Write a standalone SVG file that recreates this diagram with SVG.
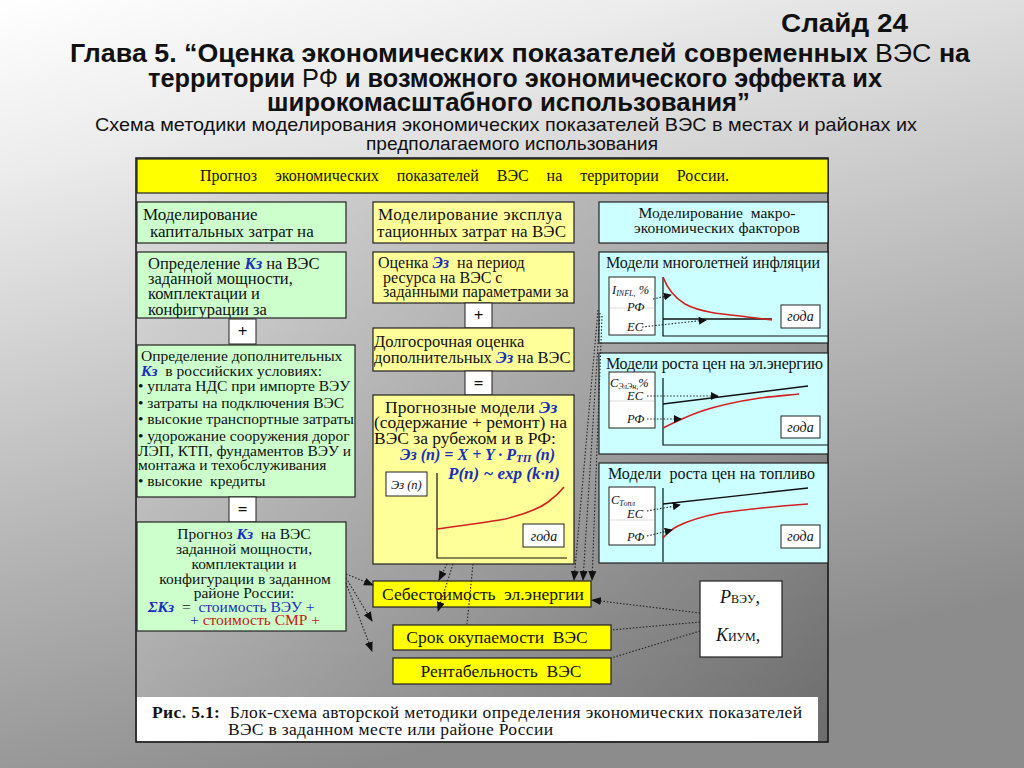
<svg xmlns="http://www.w3.org/2000/svg" width="1024" height="768" viewBox="0 0 1024 768">
<defs>
<linearGradient id="bg" x1="0" y1="0" x2="0.35" y2="1">
<stop offset="0" stop-color="#ffffff"/>
<stop offset="0.2" stop-color="#ececec"/>
<stop offset="0.65" stop-color="#b4b4b4"/>
<stop offset="1" stop-color="#8c8c8c"/>
</linearGradient>
<linearGradient id="panel" x1="0" y1="0" x2="1" y2="1">
<stop offset="0" stop-color="#e0e0e0"/>
<stop offset="0.5" stop-color="#a6a6a6"/>
<stop offset="1" stop-color="#6c6c6c"/>
</linearGradient>
<marker id="arr" viewBox="0 0 10 10" refX="9" refY="5" markerWidth="8" markerHeight="8" orient="auto" markerUnits="userSpaceOnUse">
<path d="M0,0 L10,5 L0,10 z" fill="#111"/>
</marker>
<marker id="arrs" viewBox="0 0 10 10" refX="9" refY="5" markerWidth="10" markerHeight="10" orient="auto" markerUnits="userSpaceOnUse">
<path d="M0,1 L10,5 L0,9 z" fill="#111"/>
</marker>
<clipPath id="clipG2"><rect x="137" y="345" width="218" height="152"/></clipPath>
<clipPath id="clipG1"><rect x="137" y="252" width="209" height="66"/></clipPath>
<clipPath id="clipY2"><rect x="373" y="328" width="201" height="43"/></clipPath>
<clipPath id="clipY1"><rect x="373" y="252" width="201" height="51"/></clipPath>
</defs>
<style>
.t{font-family:"Liberation Serif","Times New Roman",serif;fill:#111;}
.h{font-family:"Liberation Sans",Arial,sans-serif;fill:#111;}
.bx{stroke:#222;stroke-width:1.2;}
.grn{fill:#ccffcc;}
.yel{fill:#ffff99;}
.ybr{fill:#ffff00;}
.cyn{fill:#ccffff;}
.wht{fill:#ffffff;}
.op{fill:#ffffff;stroke:#222;stroke-width:1;}
.kz{fill:#1a2fb8;font-weight:bold;font-style:italic;}
.ax{stroke:#111;stroke-width:1.2;fill:none;}
.red{stroke:#d02020;stroke-width:1.6;fill:none;}
.blk{stroke:#111;stroke-width:1.4;fill:none;}
.dot{stroke:#222;stroke-width:1.1;stroke-dasharray:1.5 1.8;fill:none;}
.sep{stroke:#dddddd;stroke-width:1;}
.lbl{font-family:"Liberation Serif","Times New Roman",serif;font-style:italic;fill:#111;}
</style>
<rect x="0" y="0" width="1024" height="768" fill="url(#bg)"/>

<g id="title">
<text class="h" x="781" y="32" font-size="25" font-weight="bold" textLength="127" lengthAdjust="spacingAndGlyphs">Слайд  24</text>
<text class="h" x="70" y="62" font-size="25" font-weight="bold" textLength="900" lengthAdjust="spacingAndGlyphs">Глава 5. “Оценка экономических показателей современных <tspan font-weight="normal">ВЭС</tspan> на</text>
<text class="h" x="148" y="87" font-size="25" font-weight="bold" textLength="734" lengthAdjust="spacingAndGlyphs">территории <tspan font-weight="normal">РФ</tspan> и возможного экономического эффекта их</text>
<text class="h" x="267" y="111" font-size="25" font-weight="bold" textLength="483" lengthAdjust="spacingAndGlyphs">широкомасштабного использования”</text>
<text class="h" x="95" y="131" font-size="19" textLength="822" lengthAdjust="spacingAndGlyphs">Схема методики моделирования экономических показателей ВЭС в местах и районах их</text>
<text class="h" x="366" y="150" font-size="19" textLength="292" lengthAdjust="spacingAndGlyphs">предполагаемого использования</text>
</g>

<rect id="panel-bg" x="136" y="158" width="692" height="584" fill="url(#panel)" stroke="#111" stroke-width="1.5"/>

<g id="n-top">
<rect class="bx ybr" x="137" y="159" width="691" height="34"/>
<text class="t" x="200" y="181" font-size="16" word-spacing="14">Прогноз экономических показателей ВЭС на территории России.</text>
</g>

<g id="n-cap-model">
<rect class="bx grn" x="137" y="202" width="209" height="41"/>
<text class="t" x="143" y="220" font-size="17">Моделирование</text>
<text class="t" x="150" y="237" font-size="17">капитальных затрат на</text>
</g>
<g id="n-op-model">
<rect class="bx yel" x="373" y="202" width="201" height="41"/>
<text class="t" x="378" y="220" font-size="17" textLength="184">Моделирование эксплуа</text>
<text class="t" x="377" y="237" font-size="17" textLength="189">тационных затрат на ВЭС</text>
</g>
<g id="n-macro-model">
<rect class="bx cyn" x="599" y="202" width="229" height="41"/>
<text class="t" x="717" y="218" font-size="15.5" text-anchor="middle" xml:space="preserve">Моделирование  макро-</text>
<text class="t" x="717" y="233" font-size="15.5" text-anchor="middle">экономических факторов</text>
</g>

<g id="n-kz-def">
<rect class="bx grn" x="137" y="252" width="209" height="66"/>
<g clip-path="url(#clipG1)">
<text class="t" x="148" y="269" font-size="16.5">Определение <tspan class="kz">Кз</tspan> на ВЭС</text>
<text class="t" x="148" y="284" font-size="16.5">заданной мощности,</text>
<text class="t" x="148" y="299" font-size="16.5">комплектации и</text>
<text class="t" x="148" y="315" font-size="16.5">конфигурации за</text>
</g>
</g>
<g id="n-plus1"><rect class="op" x="229" y="319" width="27" height="25"/><text class="t" x="242.5" y="337" font-size="17" font-weight="bold" text-anchor="middle">+</text></g>

<g id="n-kz-add">
<rect class="bx grn" x="137" y="345" width="218" height="152"/>
<g clip-path="url(#clipG2)">
<text class="t" x="141" y="361" font-size="15.5">Определение дополнительных</text>
<text class="t" x="141" y="376" font-size="15.5" xml:space="preserve"><tspan class="kz">Кз</tspan>  в российских условиях:</text>
<text class="t" x="138" y="391" font-size="15.5">• уплата НДС при импорте ВЭУ</text>
<text class="t" x="138" y="408" font-size="15.5">• затраты на подключения ВЭС</text>
<text class="t" x="138" y="424" font-size="15.5">• высокие транспортные затраты</text>
<text class="t" x="138" y="441" font-size="15.5">• удорожание сооружения дорог</text>
<text class="t" x="138" y="456" font-size="15.5">ЛЭП, КТП, фундаментов ВЭУ и</text>
<text class="t" x="138" y="470" font-size="15.5">монтажа и техобслуживания</text>
<text class="t" x="138" y="486" font-size="15.5" xml:space="preserve">• высокие  кредиты</text>
</g>
</g>
<g id="n-eq1"><rect class="op" x="229" y="497" width="27" height="25"/><text class="t" x="242.5" y="515" font-size="17" font-weight="bold" text-anchor="middle">=</text></g>

<g id="n-kz-forecast">
<rect class="bx grn" x="137" y="522" width="209" height="109"/>
<text class="t" x="244" y="539" font-size="15.5" text-anchor="middle" xml:space="preserve">Прогноз <tspan class="kz">Кз</tspan>  на ВЭС</text>
<text class="t" x="244" y="554" font-size="15.5" text-anchor="middle">заданной мощности,</text>
<text class="t" x="244" y="569" font-size="15.5" text-anchor="middle">комплектации и</text>
<text class="t" x="245" y="584" font-size="15.5" text-anchor="middle">конфигурации в заданном</text>
<text class="t" x="244" y="598" font-size="15.5" text-anchor="middle">районе России:</text>
<text class="t" x="148" y="612" font-size="15.5" xml:space="preserve"><tspan class="kz">ΣКз</tspan>  =  <tspan fill="#1a2fb8">стоимость ВЭУ +</tspan></text>
<text class="t" x="190" y="625" font-size="15.5"><tspan fill="#1a2fb8">+</tspan><tspan fill="#c81818"> стоимость СМР +</tspan></text>
</g>

<g id="n-ez-est">
<rect class="bx yel" x="373" y="252" width="201" height="51"/>
<g clip-path="url(#clipY1)">
<text class="t" x="378" y="268" font-size="16" xml:space="preserve">Оценка <tspan class="kz">Эз</tspan>  на период</text>
<text class="t" x="383" y="283" font-size="16">ресурса на ВЭС с</text>
<text class="t" x="383" y="297" font-size="16">заданными параметрами за</text>
</g>
</g>
<g id="n-plus2"><rect class="op" x="465" y="303" width="27" height="25"/><text class="t" x="478.5" y="321" font-size="17" font-weight="bold" text-anchor="middle">+</text></g>
<g id="n-ez-long">
<rect class="bx yel" x="373" y="328" width="201" height="43"/>
<g clip-path="url(#clipY2)">
<text class="t" x="374" y="347" font-size="16.5">Долгосрочная оценка</text>
<text class="t" x="374" y="363" font-size="16.5">дополнительных <tspan class="kz">Эз</tspan> на ВЭС в</text>
</g>
</g>
<g id="n-eq2"><rect class="op" x="465" y="371" width="27" height="24"/><text class="t" x="478.5" y="389" font-size="17" font-weight="bold" text-anchor="middle">=</text></g>

<g id="n-ez-models">
<rect class="bx yel" x="373" y="395" width="201" height="169"/>
<text class="t" x="385" y="413" font-size="17.5">Прогнозные модели <tspan class="kz">Эз</tspan></text>
<text class="t" x="374" y="428" font-size="17.5">(содержание + ремонт) на</text>
<text class="t" x="374" y="444" font-size="17.5">ВЭС за рубежом и в РФ:</text>
<text class="t kz" x="400" y="460" font-size="16" textLength="155" lengthAdjust="spacingAndGlyphs">Эз (n) = X + Y · P<tspan font-size="11" dy="2">ТП</tspan><tspan dy="-2"> (n)</tspan></text>
<text class="t kz" x="448" y="479" font-size="16.5" textLength="112" lengthAdjust="spacingAndGlyphs">P(n) ~ exp (k·n)</text>
<rect class="op" x="386" y="472" width="41" height="24"/>
<text class="lbl" x="391" y="489" font-size="12.5">Эз (n)</text>
<path class="ax" d="M437,473 V558 H567"/>
<path class="red" d="M437,529 C470,524 490,522 505,519 C525,514 540,508 548,502 C555,497 560,492 564,487"/>
<rect class="op" x="523" y="524" width="41" height="23"/>
<text class="lbl" x="544" y="541" font-size="14" text-anchor="middle">года</text>
</g>

<g id="n-inflation">
<rect class="bx cyn" x="599" y="252" width="229" height="91"/>
<text class="t" x="606" y="268" font-size="16" textLength="214">Модели многолетней инфляции</text>
<rect class="op" x="609" y="277" width="46" height="58"/>
<line class="sep" x1="610" y1="308" x2="654" y2="308"/>
<text class="lbl" x="612" y="294" font-size="12.5">I<tspan font-size="8" dy="2">INFL,</tspan><tspan dy="-2"> %</tspan></text>
<text class="lbl" x="627" y="311" font-size="12.5">РФ</text>
<text class="lbl" x="627" y="331" font-size="12.5">ЕС</text>
<path class="ax" d="M663,277 V336 H828"/>
<line class="blk" x1="663" y1="319" x2="772" y2="319"/>
<path class="red" d="M663,277 C668,290 675,298 685,304 C700,312 720,314 740,316 C755,318 765,319 772,320"/>
<rect class="op" x="781" y="305" width="39" height="23"/>
<text class="lbl" x="800.5" y="321" font-size="14" text-anchor="middle">года</text>
</g>

<g id="n-elprice">
<rect class="bx cyn" x="599" y="353" width="229" height="101"/>
<text class="t" x="606" y="369" font-size="16" textLength="217">Модели роста цен на эл.энергию</text>
<rect class="op" x="609" y="372" width="46" height="56"/>
<line class="sep" x1="610" y1="401" x2="654" y2="401"/>
<text class="lbl" x="610" y="387" font-size="12.5">С<tspan font-size="8" dy="2">ЭлЭн,</tspan><tspan dy="-2">%</tspan></text>
<text class="lbl" x="627" y="400" font-size="12.5">ЕС</text>
<text class="lbl" x="627" y="423" font-size="12.5">РФ</text>
<path class="ax" d="M663,378 V445 H828"/>
<line class="blk" x1="663" y1="404" x2="808" y2="386"/>
<path class="red" d="M663,428 C675,422 690,415 702,411 C720,405 740,401 760,398 C775,396 790,395 799,394"/>
<rect class="op" x="781" y="416" width="39" height="22"/>
<text class="lbl" x="800.5" y="432" font-size="14" text-anchor="middle">года</text>
</g>

<g id="n-fuelprice">
<rect class="bx cyn" x="599" y="463" width="229" height="100"/>
<text class="t" x="608" y="479" font-size="16" textLength="207" xml:space="preserve">Модели  роста цен на топливо</text>
<rect class="op" x="609" y="487" width="46" height="58"/>
<line class="sep" x1="610" y1="520" x2="654" y2="520"/>
<text class="lbl" x="611" y="504" font-size="12.5">С<tspan font-size="8" dy="2">Топл</tspan></text>
<text class="lbl" x="627" y="518" font-size="12.5">ЕС</text>
<text class="lbl" x="627" y="541" font-size="12.5">РФ</text>
<path class="ax" d="M663,488 V562"/>
<line class="blk" x1="663" y1="504" x2="808" y2="488"/>
<path class="red" d="M663,538 C668,532 672,529 678,526 C690,520 705,516 720,513 C750,509 780,506 808,504"/>
<rect class="op" x="781" y="525" width="39" height="23"/>
<text class="lbl" x="800.5" y="541" font-size="14" text-anchor="middle">года</text>
</g>

<g id="n-cost">
<rect class="bx ybr" x="373" y="581" width="218" height="26"/>
<text class="t" x="483" y="600" font-size="17.5" text-anchor="middle" xml:space="preserve">Себестоимость  эл.энергии</text>
</g>
<g id="n-payback">
<rect class="bx ybr" x="393" y="625" width="218" height="25"/>
<text class="t" x="497" y="643" font-size="17.5" text-anchor="middle" xml:space="preserve">Срок окупаемости  ВЭС</text>
</g>
<g id="n-profit">
<rect class="bx ybr" x="393" y="658" width="218" height="26"/>
<text class="t" x="501" y="677" font-size="17.5" text-anchor="middle" xml:space="preserve">Рентабельность  ВЭС</text>
</g>
<g id="n-params">
<rect class="bx wht" x="700" y="581" width="82" height="76"/>
<text class="t" x="720" y="603" font-size="18"><tspan font-style="italic">Р</tspan><tspan font-size="12">ВЭУ</tspan>,</text>
<text class="t" x="716" y="641" font-size="18"><tspan font-style="italic">К</tspan><tspan font-size="12">ИУМ</tspan>,</text>
</g>

<g id="connectors">
<line class="dot" x1="653" y1="299" x2="671" y2="295" marker-end="url(#arr)"/>
<line class="dot" x1="642" y1="327" x2="706" y2="320" marker-end="url(#arr)"/>
<line class="dot" x1="647" y1="396" x2="718" y2="396" marker-end="url(#arr)"/>
<line class="dot" x1="647" y1="419" x2="681" y2="419" marker-end="url(#arr)"/>
<line class="dot" x1="647" y1="511" x2="680" y2="505" marker-end="url(#arr)"/>
<line class="dot" x1="647" y1="536" x2="672" y2="530" marker-end="url(#arr)"/>

<line class="dot" x1="346" y1="574" x2="373" y2="585" marker-end="url(#arrs)"/>
<line class="dot" x1="346" y1="578" x2="372" y2="621" marker-end="url(#arrs)"/>
<line class="dot" x1="346" y1="583" x2="372" y2="651" marker-end="url(#arrs)"/>

<line class="dot" x1="447" y1="564" x2="439" y2="580" marker-end="url(#arrs)"/>
<line class="dot" x1="453" y1="564" x2="438" y2="611" marker-end="url(#arrs)"/>
<line class="dot" x1="473" y1="564" x2="467" y2="624"/>

<line class="dot" x1="598" y1="310" x2="574" y2="580" marker-end="url(#arrs)"/>
<line class="dot" x1="600" y1="313" x2="583" y2="580" marker-end="url(#arrs)"/>
<line class="dot" x1="602" y1="316" x2="592" y2="580" marker-end="url(#arrs)"/>

<line class="dot" x1="700" y1="613" x2="592" y2="600" marker-end="url(#arrs)"/>
<line class="dot" x1="700" y1="622" x2="611" y2="630"/>
<line class="dot" x1="700" y1="631" x2="611" y2="658"/>
</g>

<g id="caption">
<rect x="137" y="697" width="681" height="44" fill="#ffffff"/>
<text class="t" x="152" y="718" font-size="17.5" textLength="650" xml:space="preserve"><tspan font-weight="bold">Рис. 5.1:</tspan>  Блок-схема авторской методики определения экономических показателей</text>
<text class="t" x="228" y="735" font-size="17.5" textLength="325">ВЭС в заданном месте или районе России</text>
</g>
</svg>
